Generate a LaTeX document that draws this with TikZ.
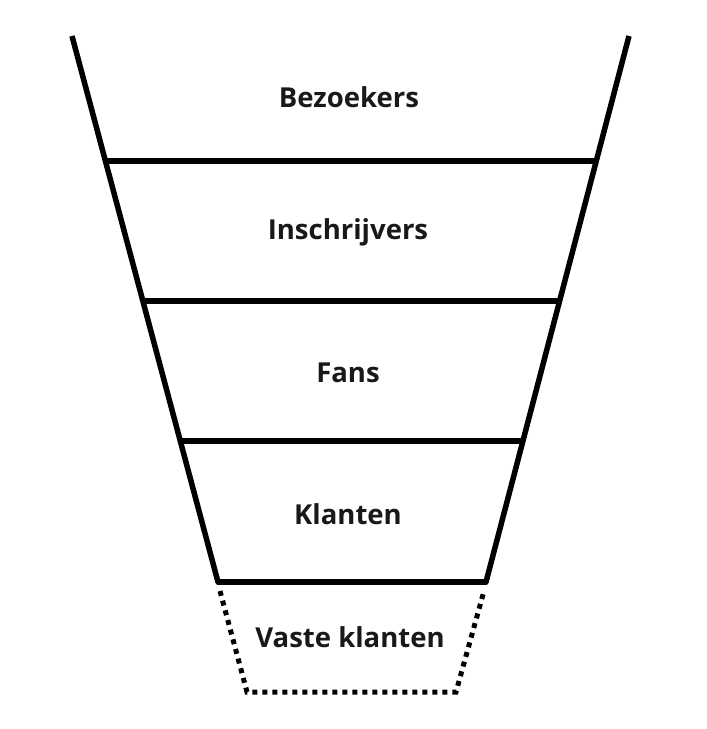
\documentclass[tikz,border=0pt]{standalone}
\usepackage{fontspec}
\setmainfont{Open Sans}
\usepackage{tikz}
\usetikzlibrary{positioning, calc}

\tikzset{
  funnel/.style={line width=5.5pt},
  dotline/.style={line width=5pt, dash pattern=on 5pt off 5pt},
  label/.style={font=\bfseries\fontsize{27.5}{32}\selectfont, text=black!90}
}

\begin{document}
\begin{tikzpicture}[x=1pt,y=-1pt]
\useasboundingbox (0,0) rectangle (707,729);
% corners of the funnel
\coordinate (tl) at (72,36);
\coordinate (tr) at (629,36);
\coordinate (bl) at (218,582);
\coordinate (br) at (486,582);
\coordinate (dl) at (247,692);
\coordinate (dr) at (456,692);
% sides
\draw[funnel] (tl) -- (bl);
\draw[funnel] (tr) -- (br);
% steps
\foreach \y in {161,301,441} {
  \draw[funnel] ($(tl)!{(\y-36)/546}!(bl)$) -- ($(tr)!{(\y-36)/546}!(br)$);
}
\draw[funnel, line cap=round] (bl) -- (br);
% last step, not reached yet
\draw[dotline] ($(bl)+(2,9)$) -- (dl) -- (dr) -- ($(br)+(-2,9)$);
\node[label] (bez) at (349,97) {Bezoekers};
\node[label] (ins) at (348,232) {Inschrijvers};
\node[label] (fans) at (348,373) {Fans};
\node[label] (kla) at (348,514) {Klanten};
\node[label] (vas) at (350,637) {Vaste klanten};
\end{tikzpicture}
\end{document}
